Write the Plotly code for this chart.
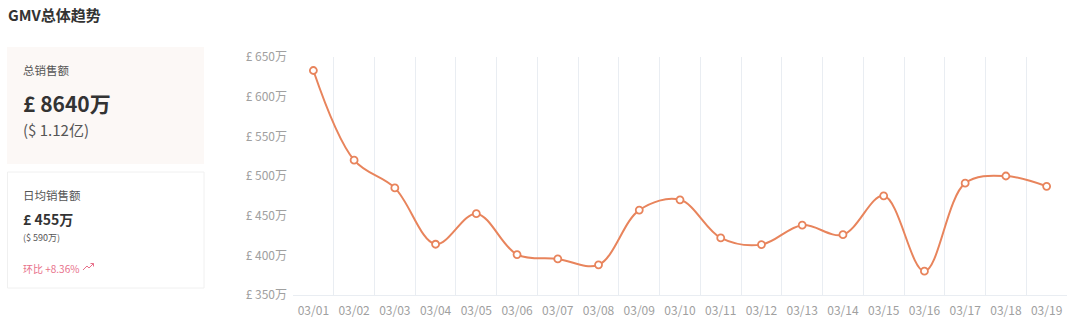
import plotly.graph_objects as go

dates = ["03/01", "03/02", "03/03", "03/04", "03/05", "03/06", "03/07", "03/08", "03/09", "03/10",
         "03/11", "03/12", "03/13", "03/14", "03/15", "03/16", "03/17", "03/18", "03/19"]
gmv_wan = [633, 520, 485, 414, 452.5, 401, 395.5, 388, 457, 470,
           422, 413.5, 438, 426, 475, 380, 491, 500, 487]
y_ticks = [350, 400, 450, 500, 550, 600, 650]
y_tick_labels = ["£ %d万" % v for v in y_ticks]

W, H = 1080, 321
ML, MR, MT, MB = 293, 13, 57, 26
PW = W - ML - MR
PH = H - MT - MB

FONT = "Noto Sans CJK SC, Open Sans, sans-serif"
LINE = "#E8845C"


def px(x):
    return (x - ML) / PW


def py(y):
    return (H - MB - y) / PH


fig = go.Figure()
fig.add_trace(go.Scatter(
    x=dates, y=gmv_wan, mode="lines+markers",
    line=dict(color=LINE, width=2, shape="spline", smoothing=1.0),
    marker=dict(size=7, color="white", line=dict(color=LINE, width=1.8)),
    hoverinfo="x+y", showlegend=False, cliponaxis=False,
))

shapes = [
    dict(type="rect", xref="paper", yref="paper", x0=px(7), x1=px(204), y0=py(164), y1=py(47),
         fillcolor="#FCF8F6", line=dict(width=0), layer="below"),
    dict(type="rect", xref="paper", yref="paper", x0=px(7.5), x1=px(204), y0=py(288), y1=py(172),
         fillcolor="white", line=dict(color="#F0F0F0", width=1), layer="below"),
    # trend icon
    dict(type="path", xref="paper", yref="paper",
         path="M %f %f L %f %f L %f %f L %f %f" % (px(83), py(270), px(87), py(266), px(89), py(268), px(93.5), py(263.5)),
         line=dict(color="#E8708A", width=1)),
    dict(type="path", xref="paper", yref="paper",
         path="M %f %f L %f %f L %f %f" % (px(90.5), py(263.5), px(93.5), py(263.5), px(93.5), py(266.5)),
         line=dict(color="#E8708A", width=1)),
]

annotations = [
    dict(text="<b>GMV总体趋势</b>", x=px(6), y=py(15), xanchor="left", yanchor="middle",
         font=dict(size=15, color="#333333", family=FONT)),
    dict(text="总销售额", x=px(21), y=py(70), xanchor="left", yanchor="middle",
         font=dict(size=11.5, color="#555555", family=FONT)),
    dict(text="<b>£ 8640万</b>", x=px(21), y=py(103), xanchor="left", yanchor="middle",
         font=dict(size=21, color="#333333", family=FONT)),
    dict(text="($ 1.12亿)", x=px(21), y=py(129), xanchor="left", yanchor="middle",
         font=dict(size=15, color="#555555", family=FONT)),
    dict(text="日均销售额", x=px(21), y=py(195), xanchor="left", yanchor="middle",
         font=dict(size=11.5, color="#555555", family=FONT)),
    dict(text="<b>£ 455万</b>", x=px(21), y=py(219), xanchor="left", yanchor="middle",
         font=dict(size=14, color="#333333", family=FONT)),
    dict(text="($ 590万)", x=px(21), y=py(237), xanchor="left", yanchor="middle",
         font=dict(size=9, color="#555555", family=FONT)),
    dict(text="环比 +8.36%", x=px(21), y=py(268), xanchor="left", yanchor="middle",
         font=dict(size=10, color="#E8708A", family=FONT)),
]
for a in annotations:
    a.update(xref="paper", yref="paper", showarrow=False)

fig.update_layout(
    width=W, height=H,
    margin=dict(l=ML, r=MR, t=MT, b=MB, pad=0),
    paper_bgcolor="white", plot_bgcolor="white",
    font=dict(family=FONT, size=12, color="#999999"),
    shapes=shapes, annotations=annotations,
    xaxis=dict(type="category", range=[-0.5, len(dates) - 0.5], tickson="boundaries",
               showgrid=True, gridcolor="#E9EDF2", gridwidth=1,
               showline=True, linecolor="#E9EDF2", linewidth=1,
               ticks="", ticklen=0, tickfont=dict(size=12, color="#A0A0A0"),
               ticklabelstandoff=5, automargin=False,
               fixedrange=True, zeroline=False),
    yaxis=dict(range=[350, 650], tickvals=y_ticks, ticktext=y_tick_labels,
               showgrid=False, zeroline=False, showline=False, ticks="",
               ticklabelstandoff=5, automargin=False,
               tickfont=dict(size=12, color="#A0A0A0"), fixedrange=True),
)

fig.write_html("out.html")
